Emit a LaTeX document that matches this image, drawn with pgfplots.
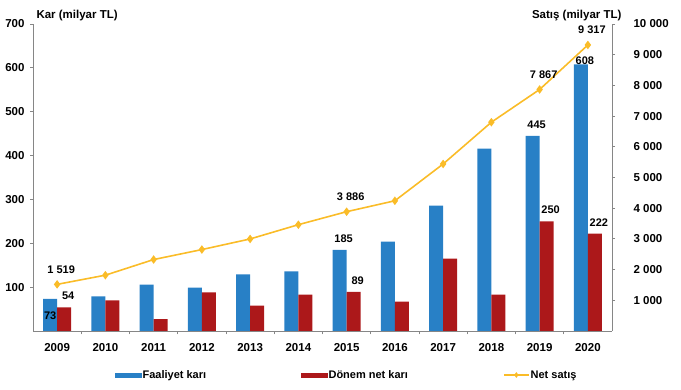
\documentclass[border=0pt]{standalone}
\usepackage{pgfplots}
\pgfplotsset{compat=1.18}
\usepackage{fontspec}
\setmainfont{Liberation Sans}
\definecolor{cblue}{RGB}{40,128,198}
\definecolor{cred}{RGB}{172,24,26}
\definecolor{cyel}{RGB}{250,188,40}
\definecolor{cgray}{RGB}{134,134,134}
\newcommand{\lowlab}[1]{\raisebox{-8pt}[0pt][0pt]{#1}}
\pgfplotsset{
  mylineleg/.style={legend image code/.code={\draw[##1, line width=1.6pt, mark size=1.6pt, mark repeat=2, mark phase=2] plot coordinates {(0pt,0pt) (12.5pt,0pt) (25pt,0pt)};}},
  bluleg/.style={legend image code/.code={\fill[cblue] (0pt,-2pt) rectangle (26pt,2pt);}},
  redleg/.style={legend image code/.code={\fill[cred] (0pt,-2pt) rectangle (26pt,2pt);}},
}
\begin{document}
\begin{tikzpicture}[font=\fontsize{11}{13}\selectfont\bfseries]
\useasboundingbox (-33pt,-59pt) rectangle (648pt,331pt);
\begin{axis}[
  scale only axis, width=579pt, height=307pt,
  xmin=-0.5, xmax=11.5, ymin=0, ymax=700,
  clip=false,
  axis y line*=left, axis x line*=bottom,
  axis line style={cgray, line width=0.9pt},
  ybar=0pt, bar width=14pt,
  /pgf/number format/assume math mode=true,
  tick label style={font=\fontsize{11.5}{13}\selectfont\bfseries},
  xtick={0,...,11},
  xticklabels={2009,2010,2011,2012,2013,2014,2015,2016,2017,2018,2019,2020},
  minor x tick num=1,
  major x tick style={draw=none},
  minor x tick style={draw=cgray, line width=0.8pt},
  tick align=outside,
  major tick length=3pt, minor tick length=3.5pt,
  ytick={100,200,300,400,500,600,700},
  yticklabels={100,200,300,400,500,600,700},
  y tick style={draw=cgray, line width=0.8pt},
  yticklabel style={xshift=-2pt},
  xticklabel style={yshift=-5.5pt},
  every node near coord/.append style={black, xshift=4pt, yshift=4pt},
]
\addplot[fill=cblue, draw=none, nodes near coords, point meta=explicit symbolic]
 coordinates {(0,73)[] (1,79)[] (2,106)[] (3,99)[] (4,129)[] (5,136)[] (6,185)[185]
 (7,204)[] (8,286)[] (9,416)[] (10,445)[445] (11,608)[\lowlab{608}]};
\addplot[fill=cred, draw=none, nodes near coords, point meta=explicit symbolic]
 coordinates {(0,54)[54] (1,70)[] (2,27)[] (3,88)[] (4,58)[] (5,83)[] (6,89)[89]
 (7,67)[] (8,165)[] (9,83)[] (10,250)[250] (11,222)[222]};
\node[anchor=center, xshift=-7pt] at (axis cs:0,34) {73};
\node[anchor=base west, yshift=5pt, font=\fontsize{11.5}{13}\selectfont\bfseries] at (rel axis cs:0,1) {Kar (milyar TL)};
\end{axis}
\begin{axis}[
  scale only axis, width=579pt, height=307pt,
  xmin=-0.5, xmax=11.5, ymin=0, ymax=10000,
  clip=false,
  axis y line*=right, axis x line=none,
  axis line style={cgray, line width=0.9pt},
  scaled y ticks=false,
  /pgf/number format/assume math mode=true,
  tick label style={font=\fontsize{11.5}{13}\selectfont\bfseries},
  tick align=outside, major tick length=3pt,
  ytick={1000,2000,3000,4000,5000,6000,7000,8000,9000,10000},
  yticklabels={1 000,2 000,3 000,4 000,5 000,6 000,7 000,8 000,9 000,10 000},
  y tick style={draw=cgray, line width=0.8pt},
  yticklabel style={anchor=west, xshift=15pt},
  legend columns=3,
  legend style={draw=none, fill=none, inner sep=0pt, anchor=west,
    at={(0.1416,-0.1433)}, nodes={inner sep=1pt},
    /tikz/every even column/.append style={column sep=94pt}},
]
\addlegendimage{bluleg}
\addlegendentry{Faaliyet karı}
\addlegendimage{redleg}
\addlegendentry{Dönem net karı}
\addplot[cyel, line width=1.6pt, mark=diamond*, mark size=3pt,
  nodes near coords, point meta=explicit symbolic,
  every node near coord/.append style={black, anchor=south, xshift=4pt, yshift=7pt},
  mylineleg]
 coordinates {(0,1519)[1 519] (1,1818)[] (2,2327)[] (3,2652)[] (4,2998)[] (5,3463)[]
 (6,3886)[3 886] (7,4242)[] (8,5440)[] (9,6801)[] (10,7867)[7 867] (11,9317)[9 317]};
\addlegendentry{Net satış}
\node[anchor=base east, xshift=13pt, yshift=5pt, font=\fontsize{11.5}{13}\selectfont\bfseries] at (rel axis cs:1,1) {Satış (milyar TL)};
\end{axis}
\end{tikzpicture}
\end{document}
